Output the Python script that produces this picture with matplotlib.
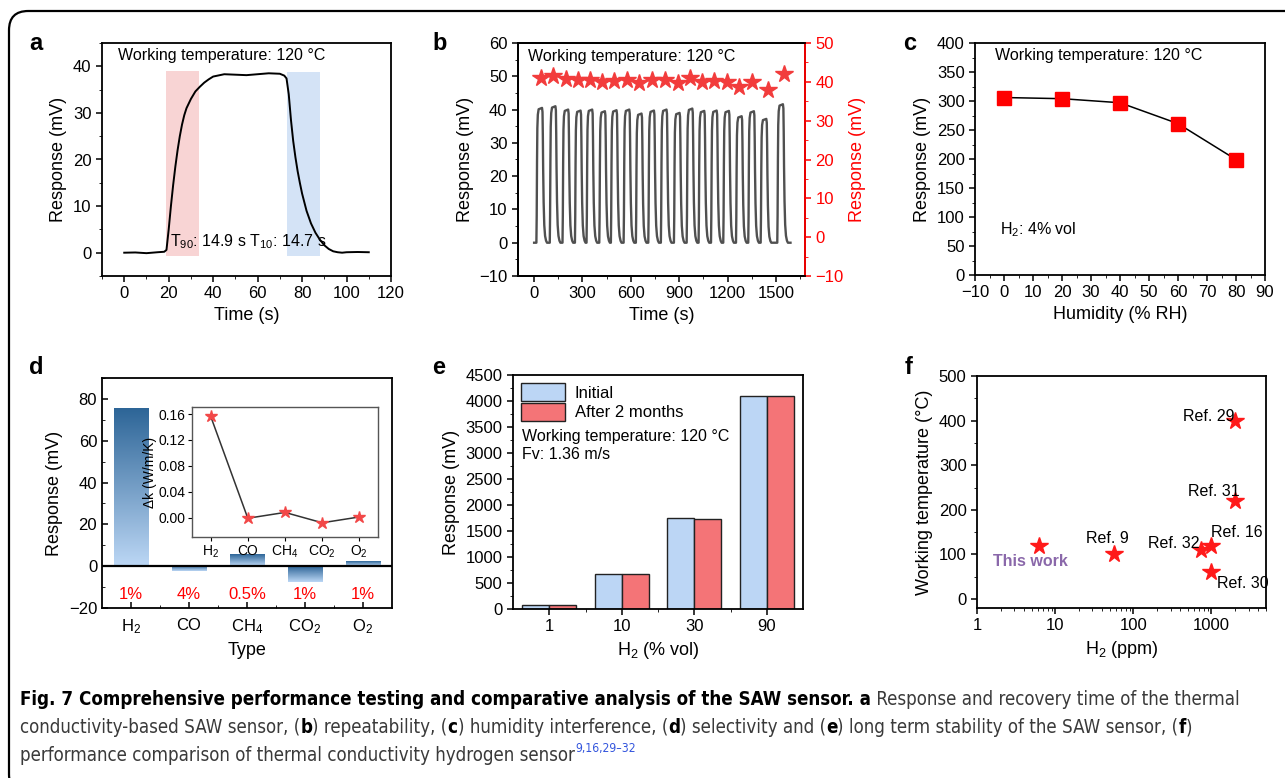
import numpy as np
import matplotlib
matplotlib.use("Agg")
import matplotlib.pyplot as plt
from matplotlib.patches import FancyBboxPatch
from matplotlib.ticker import MultipleLocator, FixedLocator, NullFormatter, LogLocator, FormatStrFormatter
from matplotlib.colors import LinearSegmentedColormap
from matplotlib import font_manager as fm

plt.rcParams['font.family'] = ['Liberation Sans', 'DejaVu Sans']
plt.rcParams['mathtext.fontset'] = 'custom'
plt.rcParams['mathtext.rm'] = 'Liberation Sans'
plt.rcParams['mathtext.it'] = 'Liberation Sans:italic'
plt.rcParams['mathtext.bf'] = 'Liberation Sans:bold'
plt.rcParams['mathtext.default'] = 'regular'
plt.rcParams['axes.linewidth'] = 1.3
plt.rcParams['xtick.direction'] = 'out'
plt.rcParams['ytick.direction'] = 'out'
plt.rcParams['xtick.major.size'] = 4
plt.rcParams['ytick.major.size'] = 4
plt.rcParams['xtick.minor.size'] = 2.5
plt.rcParams['ytick.minor.size'] = 2.5
plt.rcParams['xtick.major.width'] = 1.1
plt.rcParams['ytick.major.width'] = 1.1
plt.rcParams['xtick.labelsize'] = 12
plt.rcParams['ytick.labelsize'] = 12
plt.rcParams['axes.labelsize'] = 13

# ---------------- data ----------------
# (a) response / recovery
time_a = [0, 5, 10, 15, 18, 19, 20, 21, 22, 23, 24, 25, 26, 27, 28, 30, 32, 34, 36, 38, 40, 45,
          50, 55, 60, 65, 70, 72, 73, 74, 75, 76, 77, 78, 79, 80, 82, 84, 86, 88, 90, 92, 94,
          96, 98, 100, 105, 110]
resp_a = [0.0, 0.05, -0.1, 0.1, 0.2, 0.6, 5.0, 10.0, 14.5, 18.5, 22.0, 25.0, 27.5, 29.5, 31.0,
          33.0, 34.6, 35.6, 36.5, 37.2, 37.8, 38.3, 38.2, 38.1, 38.3, 38.5, 38.4, 38.0, 37.4,
          34.0, 28.5, 24.0, 20.5, 17.5, 15.0, 12.7, 9.0, 6.3, 4.3, 2.8, 1.6, 0.8, 0.3, 0.1,
          0.0, 0.1, 0.15, 0.1]
rise_span = (19, 33.5)
fall_span = (73, 88)

# (b) repeatability
cycle_onsets = [14, 97, 176, 253, 325, 404, 476, 555, 631, 708, 786, 867, 946, 1020, 1097,
                1173, 1252, 1328, 1405, 1508]
cycle_peaks = [40.5, 41.0, 40.0, 39.7, 40.0, 39.5, 39.8, 40.0, 38.8, 39.7, 40.0, 39.0, 40.3,
               39.6, 39.7, 39.6, 38.0, 39.5, 37.2, 41.6]
pulse_t = [0, 2, 4, 6, 9, 14, 35, 38, 40, 42, 45, 49, 54, 60, 66]
pulse_f = [0, 0.2, 0.6, 0.85, 0.95, 0.99, 1.0, 0.97, 0.8, 0.55, 0.3, 0.13, 0.05, 0.015, 0.0]
star_t = [45, 118, 197, 273, 346, 424, 497, 575, 652, 728, 809, 892, 968, 1041, 1117, 1198,
          1272, 1349, 1448, 1550]
star_resp = [40.9, 41.5, 40.7, 40.5, 40.6, 40.0, 40.2, 40.6, 39.6, 40.6, 40.5, 39.6, 40.9,
             40.0, 40.2, 40.0, 38.7, 39.9, 37.9, 41.9]

# (c) humidity
humidity = [0, 20, 40, 60, 80]
resp_c = [306, 304, 297, 261, 199]

# (d) selectivity
gases = ['H$_2$', 'CO', 'CH$_4$', 'CO$_2$', 'O$_2$']
resp_d = [75.5, -2.4, 5.7, -7.6, 2.0]
conc_d = ['1%', '4%', '0.5%', '1%', '1%']
dk = [0.157, -0.001, 0.008, -0.008, 0.001]

# (e) long-term stability
h2_vol = ['1', '10', '30', '90']
initial = [82, 670, 1745, 4105]
after2m = [78, 668, 1740, 4095]

# (f) comparison
f_labels = ['This work', 'Ref. 9', 'Ref. 32', 'Ref. 16', 'Ref. 29', 'Ref. 31', 'Ref. 30']
f_ppm = [6.3, 56, 740, 980, 2000, 2000, 1000]
f_temp = [120, 100, 110, 120, 400, 220, 60]
f_offsets = [(-6.5, -11.5), (-4.5, 11.5), (-19.5, 4.5), (19, 9.5), (-19, 3), (-15.5, 7), (22.5, -8)]

# ---------------- figure ----------------
W, H = 1285, 778
fig = plt.figure(figsize=(W / 100, H / 100), dpi=100)

def px_axes(x0, y0, x1, y1):
    return fig.add_axes([x0 / W, 1 - y1 / H, (x1 - x0) / W, (y1 - y0) / H])

# border
fig.patches.append(FancyBboxPatch((9 / W, -0.02), 1.2, 1 - 11 / H + 0.02,
                                  boxstyle="round,pad=0,rounding_size=0.015",
                                  transform=fig.transFigure, fill=False, lw=1.6,
                                  ec='black', mutation_aspect=W / H))

def letter(x, y, s):
    fig.text(x / W, 1 - y / H, s, fontsize=17, fontweight='bold', va='center', ha='left')

letter(29, 43, 'a'); letter(432, 43, 'b'); letter(903, 43, 'c')
letter(29, 367, 'd'); letter(432, 368, 'e'); letter(905, 367, 'f')

txt_kw = dict(fontsize=11.5)

# ---- a ----
ax = px_axes(102, 43, 391, 276)
ax.axvspan(*rise_span, ymin=(-0.7 + 5) / 50, ymax=(39.0 + 5) / 50, color='#f8d4d4', lw=0)
ax.axvspan(*fall_span, ymin=(-0.7 + 5) / 50, ymax=(38.7 + 5) / 50, color='#d4e3f6', lw=0)
ax.plot(time_a, resp_a, color='black', lw=1.4)
ax.set_xlim(-10, 120)
ax.set_ylim(-5, 45)
ax.xaxis.set_major_locator(MultipleLocator(20))
ax.xaxis.set_minor_locator(MultipleLocator(10))
ax.yaxis.set_major_locator(MultipleLocator(10))
ax.yaxis.set_minor_locator(MultipleLocator(5))
ax.set_xlabel('Time (s)')
ax.set_ylabel('Response (mV)')
ax.text(-3, 42.4, 'Working temperature: 120 °C', va='center', **txt_kw)
ax.text(20.5, 0.3, 'T$_{90}$: 14.9 s T$_{10}$: 14.7 s', va='bottom', **txt_kw)

# ---- b ----
ax = px_axes(518, 43, 805, 276)
tb, rb = [0], [0.0]
for on, pk in zip(cycle_onsets, cycle_peaks):
    for t, f in zip(pulse_t, pulse_f):
        tb.append(on + t)
        rb.append(pk * f)
tb.append(1590); rb.append(0.0)
ax.plot(tb, rb, color='#505050', lw=1.7)
ax.set_xlim(-100, 1680)
ax.set_ylim(-10, 60)
ax.xaxis.set_major_locator(MultipleLocator(300))
ax.xaxis.set_minor_locator(MultipleLocator(150))
ax.yaxis.set_major_locator(MultipleLocator(10))
ax.yaxis.set_minor_locator(MultipleLocator(5))
ax.set_xlabel('Time (s)')
ax.set_ylabel('Response (mV)')
ax.text(-40, 56, 'Working temperature: 120 °C', va='center', **txt_kw)
ax2 = ax.twinx()
ax2.plot(star_t, star_resp, ls='none', marker='*', ms=13, color='#f23c3c', mec='#f23c3c')
ax2.set_ylim(-10, 50)
ax2.yaxis.set_major_locator(MultipleLocator(10))
ax2.yaxis.set_minor_locator(MultipleLocator(5))
ax2.spines['right'].set_color('red')
ax2.tick_params(axis='y', which='both', colors='red')
ax2.set_ylabel('Response (mV)', color='red', rotation=90, labelpad=4)

# ---- c ----
ax = px_axes(975, 43, 1265, 275)
ax.plot(humidity, resp_c, color='black', lw=1.1, marker='s', ms=10, mfc='#ff0000', mec='#ff0000')
ax.set_xlim(-10, 90)
ax.set_ylim(0, 400)
ax.xaxis.set_major_locator(MultipleLocator(10))
ax.xaxis.set_minor_locator(MultipleLocator(5))
ax.yaxis.set_major_locator(MultipleLocator(50))
ax.yaxis.set_minor_locator(MultipleLocator(25))
ax.set_xlabel('Humidity (% RH)')
ax.set_ylabel('Response (mV)')
ax.text(-3, 378, 'Working temperature: 120 °C', va='center', **txt_kw)
ax.text(-1.5, 78, 'H$_2$: 4% vol', va='center', **txt_kw)

# ---- d ----
ax = px_axes(102, 378, 392, 608)
xd = np.arange(len(gases))
wd = 0.6
cmap = LinearSegmentedColormap.from_list('bl', ['#bcd7f5', '#2d6597'])
grad = np.linspace(1, 0, 256).reshape(-1, 1)
for xi, v in zip(xd, resp_d):
    lo, hi = min(0, v), max(0, v)
    ax.imshow(grad, extent=(xi - wd / 2, xi + wd / 2, lo, hi), cmap=cmap, aspect='auto',
              origin='upper', zorder=2, interpolation='bilinear')
ax.axhline(0, color='black', lw=1.6, zorder=3)
for xi, c in zip(xd, conc_d):
    ax.text(xi, -13.4, c, color='red', ha='center', va='center', fontsize=12)
ax.set_xlim(-0.5, 4.5)
ax.set_ylim(-20, 90)
ax.set_xticks(xd)
ax.set_xticklabels(gases)
ax.xaxis.set_minor_locator(FixedLocator([0.5, 1.5, 2.5, 3.5]))
ax.yaxis.set_major_locator(MultipleLocator(20))
ax.yaxis.set_minor_locator(MultipleLocator(10))
ax.tick_params(which='both', direction='in')
ax.tick_params(axis='x', which='major', pad=7)
ax.set_xlabel('Type')
ax.set_ylabel('Response (mV)')

axi = px_axes(192, 407, 378, 537)
axi.plot(xd, dk, color='#333333', lw=1.1, marker='*', ms=9, mfc='#f24848', mec='#f24848')
axi.set_xlim(-0.5, 4.5)
axi.set_ylim(-0.03, 0.171)
axi.set_xticks(xd)
axi.set_xticklabels(gases)
axi.yaxis.set_major_locator(MultipleLocator(0.04))
axi.yaxis.set_major_formatter(FormatStrFormatter('%.2f'))
axi.tick_params(labelsize=10, length=3, width=0.8, pad=2)
for s in axi.spines.values():
    s.set_color('#555555'); s.set_linewidth(1.0)
axi.set_ylabel('Δk (W/m/K)', fontsize=10, labelpad=1)

# ---- e ----
ax = px_axes(513, 375, 803, 609)
xe = np.arange(len(h2_vol))
we = 0.37
ax.bar(xe - we / 2, initial, width=we, color='#bcd6f5', edgecolor='#222222', lw=1.0, label='Initial')
ax.bar(xe + we / 2, after2m, width=we, color='#f47477', edgecolor='#222222', lw=1.0, label='After 2 months')
ax.set_xlim(-0.5, 3.5)
ax.set_ylim(0, 4500)
ax.set_xticks(xe)
ax.set_xticklabels(h2_vol)
ax.xaxis.set_minor_locator(FixedLocator([0.5, 1.5, 2.5]))
ax.yaxis.set_major_locator(MultipleLocator(500))
ax.yaxis.set_minor_locator(MultipleLocator(250))
ax.set_xlabel('H$_2$ (% vol)')
ax.set_ylabel('Response (mV)')
ax.legend(loc='upper left', frameon=False, fontsize=12, handlelength=2.6, handleheight=1.25,
          borderaxespad=0.3, labelspacing=0.12, handletextpad=0.6, borderpad=0.2)
ax.text(-0.37, 3150, 'Working temperature: 120 °C\nFv: 1.36 m/s', va='center', linespacing=1.25, **txt_kw)

# ---- f ----
ax = px_axes(977, 376, 1266, 608)
ax.plot(f_ppm, f_temp, ls='none', marker='*', ms=13, color='#ff1a1a', mec='#ff1a1a')
ax.set_xscale('log')
ax.set_xlim(1, 5000)
ax.set_ylim(-20, 500)
ax.xaxis.set_major_locator(LogLocator(base=10, numticks=10))
ax.xaxis.set_minor_locator(LogLocator(base=10, subs=np.arange(2, 10), numticks=10))
ax.xaxis.set_minor_formatter(NullFormatter())
ax.xaxis.set_major_formatter(FormatStrFormatter('%d'))
ax.yaxis.set_major_locator(MultipleLocator(100))
ax.yaxis.set_minor_locator(MultipleLocator(50))
ax.set_xlabel('H$_2$ (ppm)')
ax.set_ylabel('Working temperature (°C)')
for lab, xx, yy, off in zip(f_labels, f_ppm, f_temp, f_offsets):
    if lab == 'This work':
        ax.annotate(lab, (xx, yy), xytext=off, textcoords='offset points', ha='center', va='center',
                    color='#8a68aa', fontweight='bold', fontsize=11.5)
    else:
        ax.annotate(lab, (xx, yy), xytext=off, textcoords='offset points', ha='center', va='center',
                    fontsize=11.5)

# ---------------- caption ----------------
def has_font(name):
    try:
        fm.findfont(fm.FontProperties(family=name), fallback_to_default=False)
        return True
    except Exception:
        return False

if has_font('Liberation Sans Narrow'):
    cap_props = dict(family=['Liberation Sans Narrow', 'DejaVu Sans'])
else:
    cap_props = dict(family=['DejaVu Sans'], stretch='condensed')

def caption_line(y_px, parts, size):
    prev = None
    for txt, bold, color, sup in parts:
        kw = dict(fontsize=size if not sup else size * 0.65, color=color,
                  fontweight='bold' if bold else 'normal', **cap_props)
        if prev is None:
            prev = fig.text(20 / W, 1 - y_px / H, txt, va='baseline', ha='left', **kw)
        else:
            prev = fig.axes[0].annotate(txt, xy=(1, 0.55 if sup else 0), xycoords=prev, va='bottom',
                                        ha='left', annotation_clip=False, **kw)
    return prev

ctext = '#3a3a3a'
cap_size = 13.0
line1 = [('Fig. 7 Comprehensive performance testing and comparative analysis of the SAW sensor. a', True, 'black', False),
         (' Response and recovery time of the thermal', False, ctext, False)]
line2 = [('conductivity-based SAW sensor, (', False, ctext, False), ('b', True, 'black', False),
         (') repeatability, (', False, ctext, False), ('c', True, 'black', False),
         (') humidity interference, (', False, ctext, False), ('d', True, 'black', False),
         (') selectivity and (', False, ctext, False), ('e', True, 'black', False),
         (') long term stability of the SAW sensor, (', False, ctext, False), ('f', True, 'black', False),
         (')', False, ctext, False)]
line3 = [('performance comparison of thermal conductivity hydrogen sensor', False, ctext, False),
         ('9,16,29–32', False, '#3355dd', True)]

# fit the caption font size so that the first line spans the measured width
renderer = fig.canvas.get_renderer()
tmp = []
for txt, bold, color, sup in line1:
    t = fig.text(0, 0, txt, fontsize=cap_size, fontweight='bold' if bold else 'normal', **cap_props)
    tmp.append(t.get_window_extent(renderer).width)
    t.remove()
cap_size = cap_size * 1225.0 / sum(tmp)

caption_line(705, line1, cap_size)
caption_line(733, line2, cap_size)
caption_line(761, line3, cap_size)

fig.savefig('out.png', dpi=100)
